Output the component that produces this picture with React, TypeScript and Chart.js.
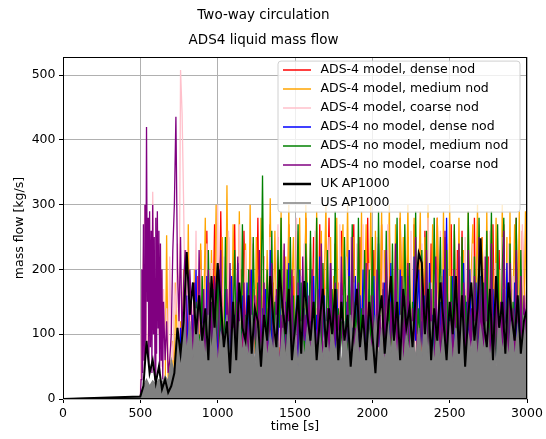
import React, { useEffect, useRef } from "react";
import { Chart, registerables } from "chart.js";

Chart.register(...registerables);

const FONT = '"DejaVu Sans", "Liberation Sans", sans-serif';

// time [s] for the ADS-4 simulation series
const timeFine = [
  0,
  500, 510, 520, 530, 540, 550, 560, 570, 580, 590,
  600, 610, 620, 630, 640, 650, 660, 670, 680, 690,
  700, 710, 720, 730, 740, 750, 760, 770, 780, 790,
  800, 810, 820, 830, 840, 850, 860, 870, 880, 890,
  900, 910, 920, 930, 940, 950, 960, 970, 980, 990,
  1000, 1010, 1020, 1030, 1040, 1050, 1060, 1070, 1080, 1090,
  1100, 1110, 1120, 1130, 1140, 1150, 1160, 1170, 1180, 1190,
  1200, 1210, 1220, 1230, 1240, 1250, 1260, 1270, 1280, 1290,
  1300, 1310, 1320, 1330, 1340, 1350, 1360, 1370, 1380, 1390,
  1400, 1410, 1420, 1430, 1440, 1450, 1460, 1470, 1480, 1490,
  1500, 1510, 1520, 1530, 1540, 1550, 1560, 1570, 1580, 1590,
  1600, 1610, 1620, 1630, 1640, 1650, 1660, 1670, 1680, 1690,
  1700, 1710, 1720, 1730, 1740, 1750, 1760, 1770, 1780, 1790,
  1800, 1810, 1820, 1830, 1840, 1850, 1860, 1870, 1880, 1890,
  1900, 1910, 1920, 1930, 1940, 1950, 1960, 1970, 1980, 1990,
  2000, 2010, 2020, 2030, 2040, 2050, 2060, 2070, 2080, 2090,
  2100, 2110, 2120, 2130, 2140, 2150, 2160, 2170, 2180, 2190,
  2200, 2210, 2220, 2230, 2240, 2250, 2260, 2270, 2280, 2290,
  2300, 2310, 2320, 2330, 2340, 2350, 2360, 2370, 2380, 2390,
  2400, 2410, 2420, 2430, 2440, 2450, 2460, 2470, 2480, 2490,
  2500, 2510, 2520, 2530, 2540, 2550, 2560, 2570, 2580, 2590,
  2600, 2610, 2620, 2630, 2640, 2650, 2660, 2670, 2680, 2690,
  2700, 2710, 2720, 2730, 2740, 2750, 2760, 2770, 2780, 2790,
  2800, 2810, 2820, 2830, 2840, 2850, 2860, 2870, 2880, 2890,
  2900, 2910, 2920, 2930, 2940, 2950, 2960, 2970, 2980, 2990,
  3000,
];

// time [s] for the coarse-nodalisation no-model run (finer output at start)
const timePurple = [
  0,
  500, 505, 510, 515, 520, 525, 530, 535, 540, 545,
  550, 555, 560, 565, 570, 575, 580, 585, 590, 595,
  600, 605, 610, 615, 620, 625, 630, 635, 640, 645,
  650, 660, 670, 680, 690,
  700, 710, 720, 730, 740, 750, 760, 770, 780, 790,
  800, 810, 820, 830, 840, 850, 860, 870, 880, 890,
  900, 910, 920, 930, 940, 950, 960, 970, 980, 990,
  1000, 1010, 1020, 1030, 1040, 1050, 1060, 1070, 1080, 1090,
  1100, 1110, 1120, 1130, 1140, 1150, 1160, 1170, 1180, 1190,
  1200, 1210, 1220, 1230, 1240, 1250, 1260, 1270, 1280, 1290,
  1300, 1310, 1320, 1330, 1340, 1350, 1360, 1370, 1380, 1390,
  1400, 1410, 1420, 1430, 1440, 1450, 1460, 1470, 1480, 1490,
  1500, 1510, 1520, 1530, 1540, 1550, 1560, 1570, 1580, 1590,
  1600, 1610, 1620, 1630, 1640, 1650, 1660, 1670, 1680, 1690,
  1700, 1710, 1720, 1730, 1740, 1750, 1760, 1770, 1780, 1790,
  1800, 1810, 1820, 1830, 1840, 1850, 1860, 1870, 1880, 1890,
  1900, 1910, 1920, 1930, 1940, 1950, 1960, 1970, 1980, 1990,
  2000, 2010, 2020, 2030, 2040, 2050, 2060, 2070, 2080, 2090,
  2100, 2110, 2120, 2130, 2140, 2150, 2160, 2170, 2180, 2190,
  2200, 2210, 2220, 2230, 2240, 2250, 2260, 2270, 2280, 2290,
  2300, 2310, 2320, 2330, 2340, 2350, 2360, 2370, 2380, 2390,
  2400, 2410, 2420, 2430, 2440, 2450, 2460, 2470, 2480, 2490,
  2500, 2510, 2520, 2530, 2540, 2550, 2560, 2570, 2580, 2590,
  2600, 2610, 2620, 2630, 2640, 2650, 2660, 2670, 2680, 2690,
  2700, 2710, 2720, 2730, 2740, 2750, 2760, 2770, 2780, 2790,
  2800, 2810, 2820, 2830, 2840, 2850, 2860, 2870, 2880, 2890,
  2900, 2910, 2920, 2930, 2940, 2950, 2960, 2970, 2980, 2990,
  3000,
];

// time [s] for the two plant series
const timeCoarse = [
  0,
  500, 520, 540, 560, 580, 600, 620, 640, 660, 680,
  700, 720, 740, 760, 780, 800, 820, 840, 860, 880,
  900, 920, 940, 960, 980, 1000, 1020, 1040, 1060, 1080,
  1100, 1120, 1140, 1160, 1180, 1200, 1220, 1240, 1260, 1280,
  1300, 1320, 1340, 1360, 1380, 1400, 1420, 1440, 1460, 1480,
  1500, 1520, 1540, 1560, 1580, 1600, 1620, 1640, 1660, 1680,
  1700, 1720, 1740, 1760, 1780, 1800, 1820, 1840, 1860, 1880,
  1900, 1920, 1940, 1960, 1980, 2000, 2020, 2040, 2060, 2080,
  2100, 2120, 2140, 2160, 2180, 2200, 2220, 2240, 2260, 2280,
  2300, 2320, 2340, 2360, 2380, 2400, 2420, 2440, 2460, 2480,
  2500, 2520, 2540, 2560, 2580, 2600, 2620, 2640, 2660, 2680,
  2700, 2720, 2740, 2760, 2780, 2800, 2820, 2840, 2860, 2880,
  2900, 2920, 2940, 2960, 2980, 3000,
];

// mass flow [kg/s]
const modelDense = [
  0,
  0, 0, 0, 0, 0, 0, 0, 0, 0, 0,
  0, 0, 0, 0, 0, 0, 0, 0, 0, 0,
  0, 0, 0, 0, 0, 0, 0, 0, 0, 0,
  0, 0, 0, 0, 20, 150, 40, 190, 60, 230,
  80, 150, 60, 260, 100, 180, 70, 120, 270, 90,
  160, 60, 290, 110, 170, 80, 140, 250, 70, 180,
  100, 270, 60, 150, 90, 200, 80, 260, 120, 60,
  170, 90, 240, 70, 130, 100, 280, 60, 160, 110,
  220, 80, 140, 60, 270, 100, 180, 70, 120, 250,
  90, 160, 60, 230, 110, 80, 270, 140, 70, 190,
  100, 260, 80, 150, 60, 200, 90, 280, 120, 70,
  170, 100, 250, 60, 140, 90, 270, 110, 80, 210,
  60, 160, 280, 90, 130, 70, 240, 100, 180, 60,
  260, 110, 70, 170, 90, 230, 60, 150, 270, 80,
  140, 60, 250, 100, 180, 70, 120, 280, 90, 160,
  70, 230, 110, 60, 190, 90, 270, 130, 70, 200,
  100, 260, 60, 150, 80, 240, 110, 70, 280, 140,
  60, 180, 90, 250, 70, 140, 100, 270, 60, 170,
  230, 80, 130, 60, 260, 100, 160, 70, 240, 90,
  150, 60, 280, 110, 70, 190, 90, 250, 60, 140,
  100, 270, 80, 160, 60, 230, 120, 70, 260, 90,
  170, 60, 240, 100, 140, 80, 280, 60, 150, 110,
  70, 250, 90, 180, 60, 220, 130, 70, 270, 100,
  160, 60, 230, 90, 120, 270, 80, 140, 60, 250,
  100, 170, 60, 280, 90, 140, 70, 260, 110, 80,
  200,
];

const modelMedium = [
  0,
  0, 0, 0, 0, 0, 0, 0, 0, 0, 0,
  0, 0, 0, 0, 0, 0, 0, 253, 30, 60,
  20, 90, 40, 180, 60, 30, 120, 50, 200, 80,
  40, 270, 60, 110, 80, 200, 50, 150, 90, 240,
  70, 130, 280, 60, 180, 90, 230, 70, 140, 300,
  80, 200, 60, 250, 110, 70, 330, 90, 160, 60,
  270, 100, 150, 60, 290, 80, 190, 70, 240, 110,
  60, 300, 90, 170, 70, 250, 130, 60, 280, 100,
  160, 60, 230, 90, 310, 70, 140, 260, 80, 190,
  60, 290, 110, 70, 220, 90, 300, 60, 170, 250,
  90, 150, 60, 280, 100, 200, 70, 300, 130, 60,
  240, 80, 170, 60, 290, 110, 70, 260, 90, 190,
  300, 60, 140, 250, 80, 190, 60, 280, 110, 70,
  170, 270, 60, 130, 300, 90, 200, 60, 250, 100,
  60, 220, 90, 290, 70, 160, 270, 60, 140, 300,
  110, 60, 260, 100, 190, 70, 290, 80, 230, 60,
  150, 300, 70, 180, 60, 270, 100, 60, 290, 130,
  250, 60, 140, 300, 90, 200, 60, 280, 110, 70,
  190, 290, 60, 160, 250, 80, 300, 60, 130, 270,
  60, 200, 280, 90, 150, 60, 290, 110, 240, 70,
  300, 100, 60, 260, 170, 70, 280, 90, 60, 230,
  140, 60, 290, 110, 200, 270, 60, 150, 300, 80,
  60, 250, 130, 70, 290, 100, 60, 270, 180, 60,
  280, 90, 200, 60, 300, 140, 70, 250, 90, 290,
  60, 160, 270, 80, 110, 290, 60, 200, 90, 290,
  120,
];

const modelCoarse = [
  0,
  0, 150, 230, 300, 120, 60, 180, 90, 320, 130,
  60, 280, 100, 200, 50, 170, 80, 140, 60, 220,
  90, 60, 180, 130, 240, 70, 508, 440, 300, 120,
  230, 80, 180, 60, 150, 90, 260, 70, 120, 200,
  60, 170, 90, 240, 130, 70, 210, 100, 160, 60,
  300, 90, 150, 60, 220, 110, 70, 260, 90, 140,
  60, 200, 120, 80, 270, 90, 160, 60, 230, 100,
  140, 60, 250, 90, 170, 110, 70, 200, 130, 60,
  220, 90, 60, 160, 250, 80, 130, 60, 190, 270,
  80, 140, 60, 230, 100, 170, 60, 250, 90, 130,
  60, 280, 110, 70, 190, 90, 240, 60, 150, 100,
  200, 60, 130, 260, 80, 160, 60, 220, 110, 70,
  170, 90, 250, 60, 140, 80, 200, 100, 60, 270,
  90, 160, 60, 220, 110, 70, 250, 80, 180, 60,
  240, 100, 150, 60, 270, 90, 130, 60, 210, 100,
  60, 190, 90, 250, 70, 140, 60, 230, 100, 160,
  270, 60, 120, 200, 80, 60, 250, 110, 140, 60,
  90, 230, 60, 170, 100, 260, 70, 130, 60, 220,
  150, 60, 240, 90, 130, 70, 280, 60, 180, 100,
  60, 200, 110, 70, 260, 90, 150, 60, 230, 80,
  190, 60, 140, 270, 80, 110, 60, 220, 130, 60,
  250, 90, 60, 180, 100, 240, 70, 140, 60, 270,
  100, 160, 60, 230, 90, 70, 260, 110, 150, 60,
  210, 60, 130, 90, 250, 80, 170, 60, 240, 100,
  60, 190, 110, 240, 70, 150, 60, 270, 90, 130,
  160,
];

const noModelDense = [
  0,
  0, 0, 0, 0, 0, 0, 0, 0, 0, 0,
  0, 0, 0, 0, 0, 0, 0, 0, 0, 5,
  10, 20, 15, 40, 60, 30, 110, 50, 80, 30,
  160, 60, 100, 40, 130, 70, 200, 50, 90, 60,
  150, 80, 40, 190, 100, 60, 130, 70, 180, 50,
  90, 200, 60, 120, 40, 170, 80, 110, 50, 190,
  70, 130, 60, 210, 90, 50, 160, 100, 60, 180,
  120, 50, 200, 80, 130, 60, 100, 190, 70, 140,
  60, 170, 100, 50, 230, 80, 120, 60, 160, 90,
  190, 60, 110, 80, 150, 50, 210, 90, 60, 130,
  80, 160, 50, 200, 100, 60, 140, 70, 180, 60,
  120, 70, 190, 60, 130, 90, 220, 50, 100, 160,
  60, 140, 80, 210, 70, 120, 60, 170, 90, 50,
  180, 100, 60, 150, 70, 230, 80, 110, 60, 190,
  90, 60, 160, 80, 200, 50, 130, 70, 170, 60,
  110, 190, 60, 140, 240, 0, 70, 120, 180, 60,
  150, 60, 210, 90, 60, 170, 100, 50, 200, 80,
  60, 130, 80, 190, 70, 110, 60, 220, 90, 140,
  200, 70, 120, 60, 160, 90, 50, 210, 80, 130,
  60, 180, 100, 60, 150, 80, 200, 70, 280, 60,
  130, 60, 190, 80, 110, 60, 170, 100, 50, 210,
  80, 150, 60, 200, 90, 130, 60, 180, 70, 120,
  190, 60, 110, 80, 220, 70, 140, 60, 170, 90,
  60, 200, 90, 130, 60, 170, 80, 210, 60, 140,
  110, 60, 180, 90, 150, 60, 200, 80, 130, 70,
  150,
];

const noModelMedium = [
  0,
  0, 0, 0, 0, 0, 0, 0, 0, 0, 0,
  0, 0, 0, 0, 0, 0, 0, 0, 0, 0,
  0, 0, 5, 10, 20, 15, 30, 20, 40, 25,
  60, 30, 110, 50, 80, 40, 150, 60, 100, 70,
  190, 80, 120, 60, 230, 90, 70, 170, 100, 60,
  210, 70, 140, 90, 60, 250, 100, 80, 180, 60,
  120, 230, 70, 150, 90, 60, 270, 100, 130, 60,
  200, 80, 60, 250, 110, 70, 180, 60, 140, 345,
  90, 60, 200, 120, 70, 260, 80, 150, 60, 230,
  110, 280, 70, 130, 60, 200, 90, 250, 60, 160,
  70, 140, 270, 60, 180, 100, 60, 240, 120, 80,
  260, 60, 150, 90, 280, 70, 120, 60, 210, 100,
  60, 230, 100, 70, 170, 60, 290, 90, 140, 60,
  120, 60, 250, 100, 60, 190, 80, 270, 70, 150,
  60, 280, 90, 140, 60, 230, 110, 70, 200, 60,
  250, 70, 120, 60, 290, 100, 60, 170, 80, 260,
  90, 160, 60, 240, 70, 130, 280, 60, 110, 190,
  60, 270, 100, 60, 210, 80, 150, 60, 290, 100,
  140, 60, 230, 90, 70, 260, 60, 180, 100, 60,
  280, 90, 60, 150, 250, 70, 120, 60, 230, 100,
  60, 190, 80, 270, 60, 140, 100, 60, 250, 80,
  160, 60, 290, 90, 130, 60, 220, 100, 70, 280,
  100, 60, 180, 80, 260, 60, 140, 290, 70, 120,
  60, 270, 100, 60, 200, 280, 80, 130, 60, 240,
  90, 150, 60, 280, 110, 60, 230, 80, 140, 60,
  100,
];

const noModelCoarse = [
  0,
  0, 30, 200, 40, 270, 60, 300, 90, 420, 150,
  280, 50, 290, 80, 260, 40, 300, 100, 250, 30,
  280, 70, 290, 110, 260, 40, 240, 60, 200, 30,
  150, 60, 120, 40, 60,
  100, 230, 300, 436, 200, 120, 250, 80, 180, 230,
  90, 60, 200, 140, 50, 180, 90, 60, 230, 100,
  60, 170, 40, 120, 200, 70, 150, 30, 190, 80,
  40, 140, 230, 60, 100, 30, 170, 80, 210, 50,
  150, 30, 120, 220, 60, 90, 40, 180, 70, 130,
  30, 200, 80, 50, 160, 90, 40, 230, 60, 120,
  180, 50, 100, 30, 140, 210, 70, 40, 170, 90,
  40, 130, 60, 240, 90, 30, 150, 70, 200, 50,
  100, 30, 180, 60, 40, 220, 90, 130, 30, 160,
  70, 200, 40, 110, 30, 170, 80, 240, 50, 90,
  30, 140, 60, 210, 100, 40, 180, 30, 130, 70,
  220, 50, 90, 30, 160, 80, 40, 250, 60, 110,
  40, 180, 70, 30, 140, 60, 210, 40, 90, 30,
  160, 60, 40, 200, 80, 130, 30, 180, 50, 230,
  70, 30, 150, 90, 40, 240, 60, 120, 30, 190,
  50, 160, 30, 210, 80, 40, 140, 60, 250, 30,
  110, 40, 190, 60, 30, 230, 90, 50, 170, 40,
  30, 220, 60, 140, 40, 180, 30, 260, 70, 100,
  40, 150, 30, 200, 90, 40, 240, 60, 30, 180,
  100, 30, 230, 50, 140, 30, 190, 80, 40, 250,
  60, 170, 30, 220, 50, 110, 30, 240, 70, 40,
  190, 60, 30, 150, 80, 260, 40, 120, 30, 210,
  50, 140, 30, 230, 60, 40, 190, 30, 160, 80,
  200,
];

const ukAP1000 = [
  0,
  4, 20, 90, 40, 60, 25, 50, 15, 30, 10,
  20, 40, 110, 70, 120, 227, 130, 180, 100, 160,
  90, 140, 60, 190, 110, 210, 150, 80, 120, 40,
  150, 60, 180, 110, 90, 160, 70, 140, 120, 50,
  130, 90, 190, 120, 80, 200, 140, 100, 170, 60,
  110, 160, 70, 182, 130, 90, 150, 60, 120, 170,
  80, 140, 100, 170, 60, 150, 90, 130, 50, 110,
  170, 80, 130, 60, 150, 100, 40, 120, 160, 70,
  130, 190, 90, 150, 60, 170, 110, 140, 80, 160,
  225, 210, 100, 170, 60, 140, 90, 180, 120, 60,
  150, 100, 190, 70, 160, 50, 130, 180, 90, 140,
  248, 120, 80, 170, 60, 190, 110, 150, 70, 180,
  130, 90, 160, 70, 120, 140,
];

const usAP1000 = [
  0,
  3, 20, 30, 20, 28, 22, 30, 25, 35, 28,
  60, 40, 110, 50, 130, 70, 120, 60, 140, 80,
  110, 60, 130, 70, 120, 50, 100, 80, 130, 60,
  110, 50, 120, 70, 100, 60, 130, 50, 110, 70,
  120, 60, 100, 70, 130, 50, 110, 60, 120, 70,
  100, 50, 120, 60, 110, 70, 130, 50, 100, 60,
  120, 60, 110, 70, 100, 50, 120, 60, 130, 70,
  110, 60, 120, 50, 100, 70, 130, 60, 110, 50,
  120, 70, 110, 60, 130, 50, 100, 70, 120, 60,
  110, 60, 130, 70, 120, 50, 110, 60, 100, 70,
  120, 50, 110, 70, 130, 60, 100, 70, 120, 60,
  110, 70, 120, 60, 100, 50, 130, 70, 110, 60,
  120, 60, 110, 70, 130, 60,
];

const xTickStep = 500;
const yTickStep = 100;

const seriesDefs = [
  { label: "ADS-4 model, dense nod", time: timeFine, values: modelDense, color: "#ff0000", width: 1.3, order: 8 },
  { label: "ADS-4 model, medium nod", time: timeFine, values: modelMedium, color: "#ffa500", width: 1.3, order: 7 },
  { label: "ADS-4 model, coarse nod", time: timeFine, values: modelCoarse, color: "#ffc0cb", width: 1.3, order: 6 },
  { label: "ADS-4 no model, dense nod", time: timeFine, values: noModelDense, color: "#0000ff", width: 1.3, order: 5 },
  { label: "ADS-4 no model, medium nod", time: timeFine, values: noModelMedium, color: "#008000", width: 1.3, order: 4 },
  { label: "ADS-4 no model, coarse nod", time: timePurple, values: noModelCoarse, color: "#800080", width: 1.3, order: 3 },
  { label: "UK AP1000", time: timeCoarse, values: ukAP1000, color: "#000000", width: 2, order: 1 },
  { label: "US AP1000", time: timeCoarse, values: usAP1000, color: "#808080", width: 1.3, order: 2, fill: "origin" },
];

const frameLegendPlugin = {
  id: "frameLegend",
  afterDatasetsDraw(chart: any) {
    const { ctx, chartArea: a } = chart;
    ctx.save();
    ctx.strokeStyle = "#000";
    ctx.lineWidth = 1;
    const l = Math.round(a.left) + 0.5;
    const t = Math.round(a.top) + 0.5;
    const r = Math.round(a.right) - 0.5;
    const b = Math.round(a.bottom) - 0.5;
    ctx.strokeRect(l, t, r - l, b - t);
    ctx.restore();
  },
  afterDraw(chart: any) {
    const { ctx, chartArea: a } = chart;
    const w = 242;
    const h = 151;
    const x0 = a.right - 7 - w;
    const y0 = a.top + 4;
    ctx.save();
    ctx.beginPath();
    const rr = 3;
    ctx.moveTo(x0 + rr, y0);
    ctx.lineTo(x0 + w - rr, y0);
    ctx.quadraticCurveTo(x0 + w, y0, x0 + w, y0 + rr);
    ctx.lineTo(x0 + w, y0 + h - rr);
    ctx.quadraticCurveTo(x0 + w, y0 + h, x0 + w - rr, y0 + h);
    ctx.lineTo(x0 + rr, y0 + h);
    ctx.quadraticCurveTo(x0, y0 + h, x0, y0 + h - rr);
    ctx.lineTo(x0, y0 + rr);
    ctx.quadraticCurveTo(x0, y0, x0 + rr, y0);
    ctx.closePath();
    ctx.fillStyle = "rgba(255,255,255,0.8)";
    ctx.fill();
    ctx.strokeStyle = "#d0d0d0";
    ctx.lineWidth = 1;
    ctx.stroke();
    ctx.font = `12.5px ${FONT}`;
    ctx.textBaseline = "middle";
    ctx.textAlign = "left";
    chart.data.datasets.forEach((ds: any, i: number) => {
      const cy = Math.round(y0 + 9 + i * 19.04);
      ctx.strokeStyle = ds.borderColor;
      ctx.lineWidth = ds.borderWidth > 1.5 ? 2.5 : 1.5;
      ctx.beginPath();
      ctx.moveTo(x0 + 5, cy);
      ctx.lineTo(x0 + 33, cy);
      ctx.stroke();
      ctx.fillStyle = "#000";
      ctx.fillText(ds.label, x0 + 42.5, cy);
    });
    ctx.restore();
  },
};

export default function App() {
  const ref = useRef<HTMLCanvasElement | null>(null);
  useEffect(() => {
    if (!ref.current) return;
    const tickFont = { family: FONT, size: 12.5 };
    const chart = new Chart(ref.current, {
      type: "line",
      data: {
        datasets: seriesDefs.map((s) => ({
          label: s.label,
          data: s.time.map((t, i) => ({ x: t, y: s.values[i] })),
          borderColor: s.color,
          backgroundColor: s.color,
          borderWidth: s.width,
          pointRadius: 0,
          tension: 0,
          order: s.order,
          fill: s.fill ? s.fill : false,
        })),
      },
      options: {
        animation: false,
        responsive: true,
        maintainAspectRatio: false,
        events: [],
        layout: { padding: { left: 0, right: 19, top: 0, bottom: 0 } },
        plugins: {
          legend: { display: false },
          tooltip: { enabled: false },
          title: {
            display: true,
            text: "Two-way circulation",
            color: "#000",
            font: { family: FONT, size: 13.5, weight: "normal" },
            padding: { top: 7, bottom: 0 },
          },
          subtitle: {
            display: true,
            text: "ADS4 liquid mass flow",
            color: "#000",
            font: { family: FONT, size: 13.5, weight: "normal" },
            padding: { top: 8.8, bottom: 8.9 },
          },
        },
        scales: {
          x: {
            type: "linear",
            min: 0,
            max: 3000,
            ticks: {
              stepSize: xTickStep,
              color: "#000",
              font: tickFont,
              padding: 3,
              maxRotation: 0,
              autoSkip: false,
              includeBounds: false,
              callback: (v: any) => String(v),
            },
            grid: { color: "#b0b0b0", lineWidth: 1, tickColor: "#000", tickLength: 4 },
            border: { display: false },
            title: { display: true, text: "time [s]", color: "#000", font: tickFont, padding: { top: 0, bottom: 4.5 } },
            afterFit: (s: any) => {
              s.height = 40;
              s.paddingLeft = 0;
              s.paddingRight = 0;
            },
          },
          y: {
            type: "linear",
            min: 0,
            max: 528,
            ticks: {
              stepSize: yTickStep,
              color: "#000",
              font: tickFont,
              padding: 3.5,
              includeBounds: false,
              callback: (v: any) => String(v),
            },
            grid: { color: "#b0b0b0", lineWidth: 1, tickColor: "#000", tickLength: 4 },
            border: { display: false },
            title: { display: true, text: "mass flow [kg/s]", color: "#000", font: tickFont, padding: { top: 12, bottom: 0 } },
            afterFit: (s: any) => {
              s.width = 63;
              s.paddingTop = 0;
              s.paddingBottom = 0;
            },
          },
        },
      },
      plugins: [frameLegendPlugin],
    } as any);
    return () => chart.destroy();
  }, []);
  return (
    <div style={{ position: "fixed", left: 0, top: 0, width: 546, height: 439, background: "#fff" }}>
      <canvas ref={ref} />
    </div>
  );
}
